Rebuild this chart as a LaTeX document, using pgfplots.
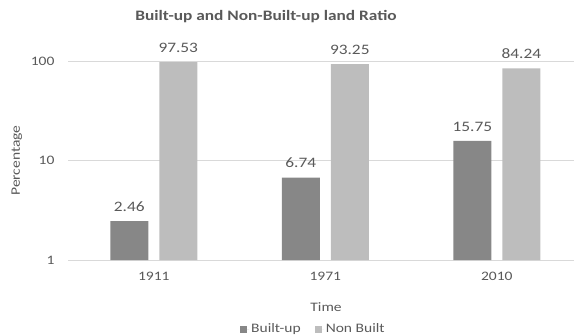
\documentclass[border=0pt]{standalone}
\usepackage{fontspec}
\setmainfont{Carlito}[FakeStretch=1.2]
\usepackage{pgfplots}
\pgfplotsset{compat=1.18}
\definecolor{txt}{HTML}{595959}
\definecolor{darkbar}{HTML}{878787}
\definecolor{lightbar}{HTML}{BDBDBD}
\definecolor{gridc}{HTML}{D9D9D9}
\begin{document}
\begin{tikzpicture}
\begin{axis}[
  at={(0,0)}, anchor=south west,
  scale only axis,
  width=506bp, height=199bp,
  ymode=log, log basis y=10,
  ymin=1, ymax=100,
  xmin=-0.5, xmax=2.45,
  ybar=11bp, bar width=38bp,
  xtick={0,1,2}, xticklabels={1911,1971,2010},
  ytick={1,10,100}, yticklabels={1,10,100},
  major tick length=0pt,
  minor y tick num=0,
  ymajorgrids, grid style={draw=gridc, line width=0.8pt},
  axis line style={draw=none},
  clip=false,
  /pgf/number format/assume math mode=true,
  tick label style={font=\fontsize{13}{15}\selectfont, text=txt},
  xticklabel style={yshift=-9bp},
  yticklabel style={xshift=-10bp},
  xlabel={Time}, ylabel={Percentage},
  label style={font=\fontsize{13}{15}\selectfont, text=txt},
  xlabel style={at={(axis description cs:0.51,-0.236)}, anchor=center},
  ylabel style={at={(axis description cs:-0.101,0.5)}, anchor=center, rotate=0},
  point meta=explicit symbolic,
  nodes near coords,
  every node near coord/.append style={font=\fontsize{14.5}{16}\selectfont, text=txt, yshift=6bp},
  legend columns=2,
  legend style={draw=none, fill=none, at={(axis description cs:0.485,-0.347)}, anchor=center,
    font=\fontsize{13}{15}\selectfont, text=txt,
    /tikz/every even column/.append style={column sep=12bp}},
  legend image code/.code={\fill[#1] (0bp,-3.5bp) rectangle (7bp,3.5bp); \path (0bp,0bp) -- (9bp,0bp);},
]
\addplot[fill=darkbar, draw=none] coordinates {(0,2.46) [2.46] (1,6.74) [6.74] (2,15.75) [15.75]};
\addplot[fill=lightbar, draw=none] coordinates {(0,97.53) [97.53] (1,93.25) [93.25] (2,84.24) [84.24]};
\legend{Built-up, Non Built}
\end{axis}
\node[font=\bfseries\fontsize{14.5}{17}\selectfont, text=txt] at (198bp,243bp) {Built-up and Non-Built-up land Ratio};
\pgfresetboundingbox
\path[use as bounding box] (-68bp,-76bp) rectangle (506bp,260bp);
\end{tikzpicture}
\end{document}
